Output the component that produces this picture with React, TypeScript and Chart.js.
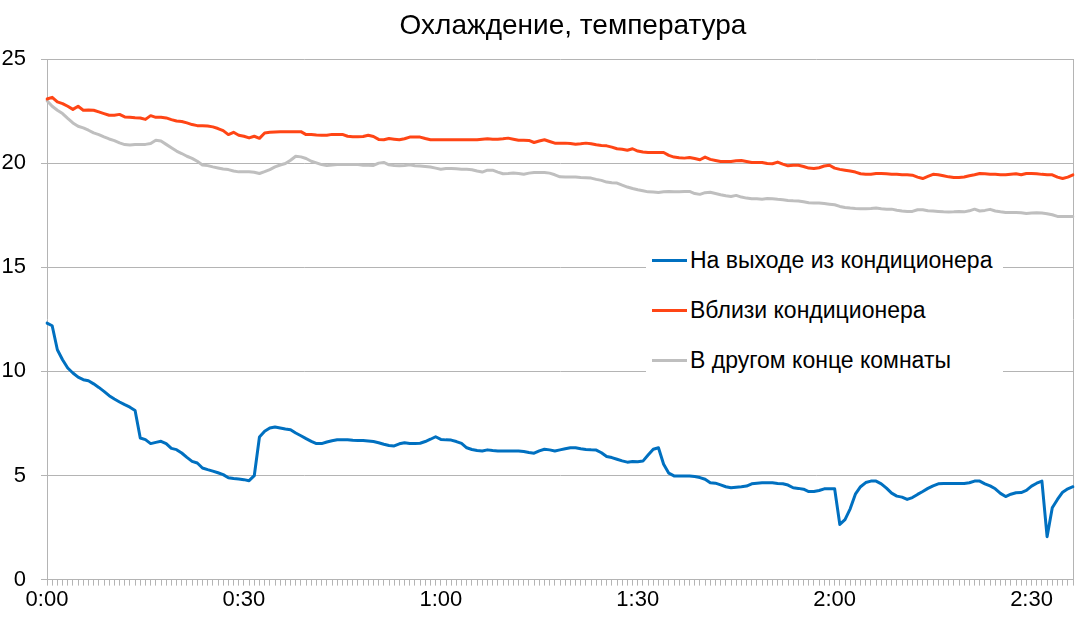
import { useEffect, useRef } from "react";
import { Chart, registerables } from "chart.js";

Chart.register(...registerables);

const chartTitle = "Охлаждение, температура";
const seriesNames = [
  "На выходе из кондиционера",
  "Вблизи кондиционера",
  "В другом конце комнаты",
];
const seriesColors = ["#0070c0", "#ff4515", "#bfbfbf"];

// one reading every 30/38 minute (38 samples per half hour)
const outletTemp = [
  12.32, 12.19, 11.04, 10.56, 10.16, 9.92, 9.72, 9.6, 9.55, 9.4,
  9.23, 9.04, 8.83, 8.67, 8.53, 8.4, 8.28, 8.12, 6.8, 6.72,
  6.53, 6.59, 6.64, 6.53, 6.3, 6.24, 6.08, 5.87, 5.68, 5.6,
  5.36, 5.28, 5.21, 5.13, 5.04, 4.89, 4.85, 4.83, 4.8, 4.75,
  4.99, 6.85, 7.12, 7.28, 7.33, 7.28, 7.23, 7.2, 7.04, 6.91,
  6.77, 6.64, 6.53, 6.53, 6.61, 6.67, 6.72, 6.72, 6.72, 6.69,
  6.68, 6.68, 6.66, 6.63, 6.57, 6.5, 6.44, 6.42, 6.52, 6.57,
  6.54, 6.54, 6.55, 6.63, 6.74, 6.86, 6.73, 6.71, 6.7, 6.63,
  6.54, 6.33, 6.25, 6.2, 6.18, 6.23, 6.2, 6.18, 6.18, 6.18,
  6.18, 6.18, 6.15, 6.1, 6.07, 6.18, 6.26, 6.23, 6.18, 6.23,
  6.28, 6.33, 6.33, 6.28, 6.25, 6.23, 6.22, 6.09, 5.91, 5.86,
  5.78, 5.7, 5.64, 5.67, 5.66, 5.69, 5.98, 6.26, 6.33, 5.54,
  5.11, 4.98, 4.98, 4.98, 4.98, 4.95, 4.9, 4.82, 4.65, 4.63,
  4.55, 4.46, 4.41, 4.44, 4.46, 4.49, 4.6, 4.63, 4.65, 4.65,
  4.65, 4.62, 4.6, 4.54, 4.41, 4.38, 4.34, 4.23, 4.23, 4.28,
  4.36, 4.36, 4.36, 2.65, 2.88, 3.4, 4.1, 4.46, 4.66, 4.73,
  4.73, 4.6, 4.39, 4.15, 4.01, 3.96, 3.85, 3.94, 4.09, 4.23,
  4.38, 4.5, 4.6, 4.62, 4.62, 4.62, 4.62, 4.62, 4.65, 4.73,
  4.73, 4.6, 4.5, 4.36, 4.14, 3.99, 4.1, 4.17, 4.18, 4.28,
  4.49, 4.63, 4.73, 2.06, 3.45, 3.85, 4.2, 4.36, 4.46,
];

const nearTemp = [
  23.08, 23.16, 22.94, 22.86, 22.73, 22.58, 22.73, 22.54, 22.55, 22.54,
  22.46, 22.38, 22.3, 22.3, 22.34, 22.22, 22.2, 22.18, 22.17, 22.1,
  22.28, 22.2, 22.2, 22.17, 22.09, 22.02, 22.0, 21.93, 21.85, 21.8,
  21.8, 21.78, 21.74, 21.66, 21.56, 21.37, 21.48, 21.34, 21.29, 21.21,
  21.29, 21.19, 21.45, 21.48, 21.5, 21.51, 21.51, 21.51, 21.51, 21.51,
  21.37, 21.37, 21.35, 21.34, 21.34, 21.38, 21.38, 21.38, 21.29, 21.27,
  21.27, 21.28, 21.34, 21.28, 21.14, 21.12, 21.18, 21.15, 21.12, 21.17,
  21.25, 21.25, 21.25, 21.18, 21.12, 21.12, 21.12, 21.12, 21.12, 21.12,
  21.12, 21.12, 21.12, 21.12, 21.15, 21.17, 21.15, 21.15, 21.17, 21.2,
  21.15, 21.1, 21.1, 21.09, 20.99, 21.06, 21.12, 21.04, 20.96, 20.96,
  20.96, 20.94, 20.91, 20.93, 20.96, 20.93, 20.88, 20.85, 20.83, 20.77,
  20.69, 20.67, 20.62, 20.69, 20.58, 20.53, 20.51, 20.51, 20.51, 20.51,
  20.37, 20.29, 20.26, 20.24, 20.27, 20.22, 20.16, 20.29, 20.18, 20.13,
  20.08, 20.08, 20.08, 20.11, 20.13, 20.08, 20.03, 20.03, 20.03, 19.98,
  19.97, 20.05, 19.95, 19.87, 19.9, 19.9, 19.84, 19.76, 19.74, 19.78,
  19.86, 19.9, 19.76, 19.7, 19.66, 19.62, 19.57, 19.49, 19.47, 19.47,
  19.5, 19.5, 19.49, 19.47, 19.46, 19.44, 19.44, 19.42, 19.33, 19.26,
  19.36, 19.46, 19.44, 19.39, 19.34, 19.31, 19.31, 19.33, 19.39, 19.44,
  19.5, 19.49, 19.47, 19.46, 19.44, 19.44, 19.47, 19.49, 19.44, 19.5,
  19.5, 19.49, 19.46, 19.44, 19.44, 19.33, 19.26, 19.33, 19.44,
];

const farTemp = [
  23.0, 22.73, 22.54, 22.38, 22.15, 21.93, 21.77, 21.69, 21.58, 21.45,
  21.37, 21.26, 21.16, 21.08, 20.97, 20.89, 20.87, 20.89, 20.9, 20.9,
  20.94, 21.1, 21.06, 20.9, 20.74, 20.58, 20.46, 20.33, 20.23, 20.09,
  19.91, 19.88, 19.82, 19.77, 19.72, 19.69, 19.62, 19.58, 19.58, 19.58,
  19.56, 19.5, 19.59, 19.69, 19.82, 19.91, 19.98, 20.14, 20.33, 20.3,
  20.22, 20.09, 20.01, 19.93, 19.88, 19.91, 19.93, 19.93, 19.93, 19.93,
  19.93, 19.9, 19.9, 19.89, 20.0, 20.03, 19.92, 19.89, 19.87, 19.89,
  19.92, 19.87, 19.86, 19.84, 19.81, 19.76, 19.71, 19.74, 19.74, 19.73,
  19.71, 19.7, 19.68, 19.62, 19.57, 19.66, 19.66, 19.57, 19.49, 19.5,
  19.52, 19.5, 19.47, 19.52, 19.55, 19.55, 19.55, 19.52, 19.44, 19.34,
  19.33, 19.33, 19.33, 19.31, 19.3, 19.28, 19.22, 19.17, 19.09, 19.06,
  19.04, 18.94, 18.85, 18.78, 18.72, 18.67, 18.62, 18.61, 18.59, 18.62,
  18.64, 18.62, 18.62, 18.64, 18.64, 18.54, 18.5, 18.58, 18.6, 18.54,
  18.48, 18.43, 18.4, 18.45, 18.37, 18.32, 18.29, 18.29, 18.27, 18.3,
  18.29, 18.26, 18.24, 18.21, 18.19, 18.18, 18.14, 18.1, 18.08, 18.08,
  18.06, 18.03, 18.0, 17.92, 17.87, 17.84, 17.82, 17.81, 17.81, 17.82,
  17.84, 17.81, 17.79, 17.79, 17.74, 17.7, 17.68, 17.68, 17.76, 17.76,
  17.71, 17.7, 17.68, 17.66, 17.65, 17.66, 17.68, 17.66, 17.71, 17.79,
  17.7, 17.73, 17.78, 17.7, 17.66, 17.63, 17.63, 17.63, 17.62, 17.58,
  17.6, 17.62, 17.6, 17.57, 17.52, 17.44, 17.44, 17.44, 17.44,
];

const minutesPerSample = 30 / 38;
const labelEvery = 38; // a label every half hour
const yMin = 0;
const yMax = 25;
const yStep = 5;

const timeLabels = outletTemp.map((_, i) => {
  const m = Math.round(i * minutesPerSample);
  return `${Math.floor(m / 60)}:${String(m % 60).padStart(2, "0")}`;
});

const FONT = "'Liberation Sans', Arial, sans-serif";
const GRID = "#b4b4b4";

export default function App() {
  const canvasRef = useRef<HTMLCanvasElement | null>(null);
  const chartRef = useRef<Chart | null>(null);

  useEffect(() => {
    if (!canvasRef.current) return;
    if (chartRef.current) chartRef.current.destroy();

    const series = [outletTemp, nearTemp, farTemp];

    chartRef.current = new Chart(canvasRef.current, {
      type: "line",
      data: {
        labels: timeLabels,
        datasets: series.map((values, k) => ({
          label: seriesNames[k],
          data: values,
          borderColor: seriesColors[k],
          backgroundColor: seriesColors[k],
          borderWidth: 3,
          pointRadius: 0,
          tension: 0,
          fill: false,
          borderJoinStyle: "round" as const,
          borderCapStyle: "round" as const,
        })),
      },
      options: {
        responsive: true,
        maintainAspectRatio: false,
        animation: false,
        layout: { padding: { left: 2, right: 19, top: 59, bottom: 27 } },
        plugins: {
          legend: { display: false },
          tooltip: { enabled: false },
          title: { display: false },
        },
        scales: {
          x: {
            type: "category",
            grid: { drawOnChartArea: false, tickLength: 6, color: GRID },
            border: { color: GRID },
            ticks: {
              autoSkip: false,
              maxRotation: 0,
              minRotation: 0,
              padding: 1,
              color: "#000",
              font: { family: FONT, size: 22 },
              callback: (_v, idx) => (idx % labelEvery === 0 ? timeLabels[idx] : ""),
            },
          },
          y: {
            min: yMin,
            max: yMax,
            grid: { color: GRID, tickLength: 6 },
            border: { color: GRID },
            ticks: {
              stepSize: yStep,
              padding: 15,
              color: "#000",
              font: { family: FONT, size: 22 },
            },
            afterFit: (scale) => {
              scale.width = 45;
            },
          },
          yRight: {
            position: "right",
            min: yMin,
            max: yMax,
            grid: { display: false },
            border: { display: true, color: GRID },
            ticks: { display: false },
            afterFit: (scale) => {
              scale.width = 0;
            },
          },
        },
      },
    });

    return () => {
      if (chartRef.current) {
        chartRef.current.destroy();
        chartRef.current = null;
      }
    };
  }, []);

  return (
    <div
      style={{
        position: "absolute",
        left: 0,
        top: 0,
        width: 1092,
        height: 641,
        background: "#fff",
      }}
    >
      <canvas ref={canvasRef}></canvas>
      <div
        style={{
          position: "absolute",
          left: 573,
          top: 9,
          transform: "translateX(-50%)",
          whiteSpace: "nowrap",
          fontFamily: FONT,
          fontSize: 28,
          lineHeight: "32px",
          color: "#000",
        }}
      >
        {chartTitle}
      </div>
      {/* legend sits inside the plot on a white box */}
      <div
        style={{
          position: "absolute",
          left: 646,
          top: 235,
          width: 357,
          height: 150,
          background: "#fff",
          fontFamily: FONT,
          fontSize: 23,
          color: "#000",
        }}
      >
        {seriesNames.map((name, k) => (
          <div key={name} style={{ display: "flex", alignItems: "center", height: 50 }}>
            <span
              style={{
                display: "inline-block",
                marginLeft: 6,
                width: 35,
                height: 3,
                background: seriesColors[k],
              }}
            ></span>
            <span style={{ marginLeft: 3, whiteSpace: "nowrap" }}>{name}</span>
          </div>
        ))}
      </div>
    </div>
  );
}
